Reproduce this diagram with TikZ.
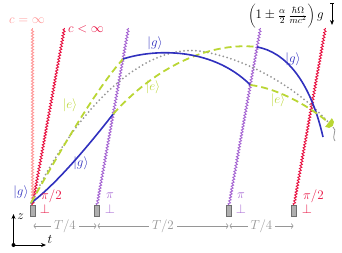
\documentclass[tikz,border=0pt]{standalone}
\usepackage{fix-cm}
\usetikzlibrary{decorations.pathmorphing,arrows.meta}
\definecolor{blueg}{RGB}{48,48,190}
\definecolor{greene}{RGB}{186,214,52}
\definecolor{pinkc}{RGB}{255,150,150}
\definecolor{redc}{RGB}{232,16,64}
\definecolor{purplec}{RGB}{165,100,210}
\definecolor{dotc}{RGB}{150,150,150}
\definecolor{timec}{RGB}{150,150,150}
\definecolor{srcfill}{RGB}{175,175,175}
\definecolor{srcdraw}{RGB}{110,110,110}
\begin{document}
\begin{tikzpicture}[x=1pt,y=-1pt,
  lbl/.style={font=\fontsize{13}{15}\selectfont, inner sep=0pt},
  laser/.style={decorate, decoration={snake, amplitude=1.1pt, segment length=3pt}, line width=0.9pt},
  gpath/.style={blueg, line width=1.6pt},
  epath/.style={greene, line width=1.8pt, dash pattern=on 7pt off 4pt},
  cpath/.style={dotc, line width=2pt, dash pattern=on 0pt off 4pt, line cap=round},
  lasersrc/.style={draw=srcdraw, fill=srcfill, minimum width=5pt, minimum height=10.5pt, inner sep=0pt, line width=0.5pt},
  tline/.style={timec, line width=0.6pt, {To[length=2.5pt]}-{To[length=2.5pt]}, shorten <=0.5pt, shorten >=0.5pt},
  axisarrow/.style={black, line width=0.8pt, -{Stealth[length=5pt,width=4pt]}},
]
\useasboundingbox (0,0) rectangle (342,252);

% laser sources
\node[lasersrc] (s0) at (32.5,210.5) {};
\node[lasersrc] (s1) at (97,210.5) {};
\node[lasersrc] (s2) at (229,210.5) {};
\node[lasersrc] (s3) at (294,210.5) {};

% laser tops
\coordinate (t00) at (32.5,28);
\coordinate (t0) at (64.5,28);
\coordinate (t1) at (128.5,28);
\coordinate (t2) at (260.5,28);
\coordinate (t3) at (325.5,28);

\draw[laser, pinkc] (s0.north) -- (t00);
\draw[laser, redc] (s0.north) -- (t0);
\draw[laser, purplec] (s1.north) -- (t1);
\draw[laser, purplec] (s2.north) -- (t2);
\draw[laser, redc] (s3.north) -- (t3);

% trajectory points
\coordinate (S) at (31,203);
\coordinate (A1) at (113.2,114);
\coordinate (B1) at (123,59);
\coordinate (A2) at (257.1,47);
\coordinate (B2) at (250.4,85);
\coordinate (E) at (323,137);
\coordinate (D) at (328.5,122.5);

% center of mass
\draw[cpath] (S) .. controls (80,100) and (150,40) .. (205,52) .. controls (250,60) and (300,90) .. (D);

% path A
\draw[gpath] (S) .. controls (55,185) and (85,150) .. (A1);
\draw[epath] (A1) .. controls (160,62) and (215,42) .. (A2);
\draw[gpath] (A2) .. controls (285,52) and (310,80) .. (E);
% path B
\draw[epath] (S) .. controls (55,160) and (95,90) .. (B1);
\draw[gpath] (B1) .. controls (150,50) and (210,45) .. (B2);
\draw[epath] (B2) .. controls (275,88) and (305,103) .. (D);

% atom symbol
\fill[greene] (D) ++(52:5.5pt) arc[start angle=52, end angle=-128, radius=5.5pt] -- cycle;
\draw[dotc, line width=0.8pt] (333,127) .. controls (338,131) and (331,135) .. (335,141);

% labels
\node[lbl, text=pinkc] (cinf) at (27,21) {$c=\infty$};
\node[lbl, text=redc] (cfin) at (86,29) {$c<\infty$};
\node[lbl, text=blueg] (g1) at (155,43) {$|g\rangle$};
\node[lbl, text=blueg] (g2) at (81,163) {$|g\rangle$};
\node[lbl, text=blueg] (g3) at (21,192) {$|g\rangle$};
\node[lbl, text=blueg] (g4) at (293,59) {$|g\rangle$};
\node[lbl, text=greene] (e1) at (153,87) {$|e\rangle$};
\node[lbl, text=greene] (e2) at (70,105) {$|e\rangle$};
\node[lbl, text=greene] (e3) at (278,100) {$|e\rangle$};

\node[lbl, text=redc, anchor=west] (p0) at (41,196) {$\pi/2$};
\node[lbl, text=redc] (q0) at (45,209) {$\perp$};
\node[lbl, text=purplec] (p1) at (110,196) {$\pi$};
\node[lbl, text=purplec] (q1) at (110,209) {$\perp$};
\node[lbl, text=purplec] (p2) at (241,196) {$\pi$};
\node[lbl, text=purplec] (q2) at (241,209) {$\perp$};
\node[lbl, text=redc, anchor=west] (p3) at (303,196) {$\pi/2$};
\node[lbl, text=redc] (q3) at (307,209) {$\perp$};

% formula and gravity arrow
\node[lbl, anchor=north] (fm) at (286,3.5) {$\biggl(1\pm\frac{\alpha}{2}\,\frac{\hbar\Omega}{mc^2}\biggr)\,g$};
\coordinate (ga) at (332,3);
\coordinate (gb) at (332,25);
\draw[line width=0.7pt, {Bar[width=4pt]}-{Stealth[length=5pt,width=4pt]}] (ga) -- (gb);

% time intervals
\coordinate (m0) at (33,226);
\coordinate (m1) at (97,226);
\coordinate (m2) at (229,226);
\coordinate (m3) at (294,226);
\draw[tline] (m0) -- node[lbl, fill=white, inner xsep=3pt, text=timec] (T1) {$T/4$} (m1);
\draw[tline] (m1) -- node[lbl, fill=white, inner xsep=3pt, text=timec] (T2) {$T/2$} (m2);
\draw[tline] (m2) -- node[lbl, fill=white, inner xsep=3pt, text=timec] (T3) {$T/4$} (m3);

% axes
\coordinate (O) at (13.5,245);
\coordinate (zt) at (13.5,214);
\coordinate (tt) at (46,245);
\draw[axisarrow] (O) -- (zt);
\draw[axisarrow] (O) -- (tt);
\fill (O) circle[radius=2pt];
\node[lbl] (zl) at (20.5,217) {$z$};
\node[lbl] (tl) at (50,239) {$t$};
\end{tikzpicture}
\end{document}
